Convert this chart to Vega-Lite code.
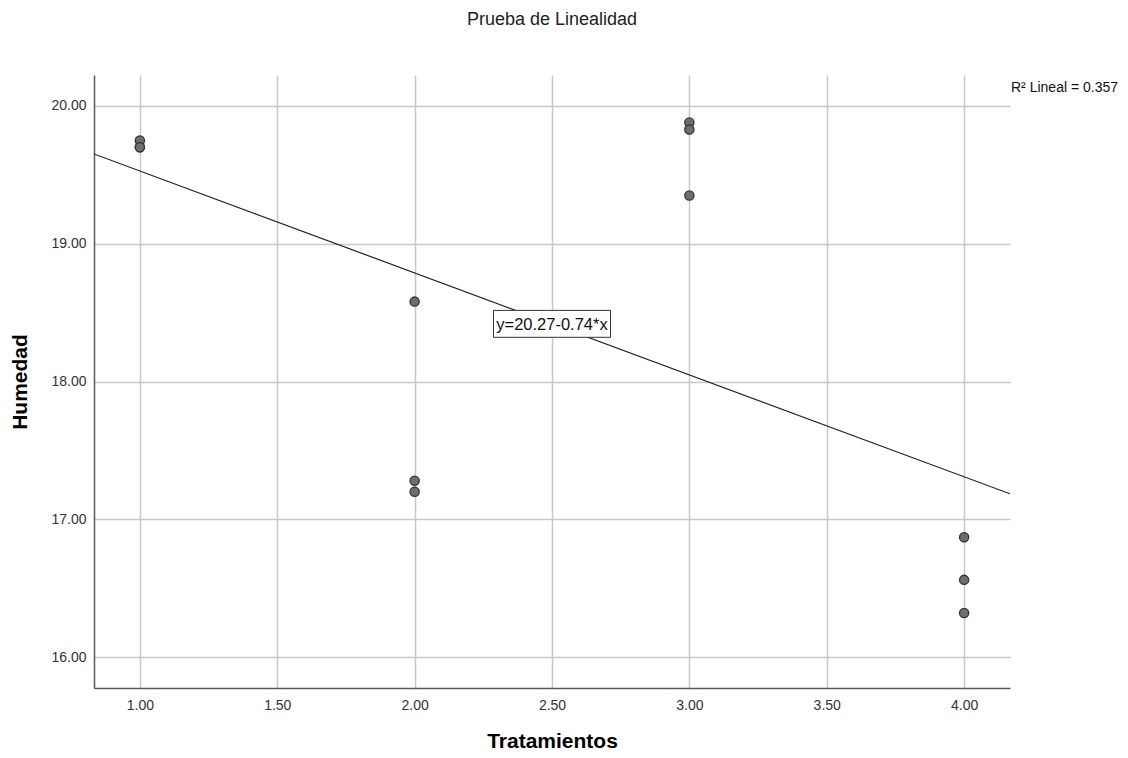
{
  "$schema": "https://vega.github.io/schema/vega-lite/v6.json",
  "autosize": "none",
  "width": 916,
  "height": 613,
  "padding": {"left": 94, "top": 75, "right": 118, "bottom": 70},
  "background": "white",
  "config": {
    "font": "Liberation Sans",
    "view": {"stroke": null},
    "axis": {
      "grid": true,
      "gridColor": "#c8c8c8",
      "gridWidth": 1.5,
      "domainColor": "#5a5a5a",
      "domainWidth": 1.5,
      "ticks": false,
      "labelFont": "Liberation Sans",
      "labelFontSize": 14,
      "labelColor": "#333333",
      "titleFont": "Liberation Sans",
      "titleFontSize": 21,
      "titleFontWeight": "bold",
      "titleColor": "#000000"
    }
  },
  "title": {
    "text": "Prueba de Linealidad",
    "font": "Liberation Sans",
    "fontSize": 18,
    "fontWeight": "normal",
    "color": "#222222",
    "anchor": "middle",
    "offset": 46
  },
  "datasets": {
    "obs": [
      {"Tratamientos": 1, "Humedad": 19.75},
      {"Tratamientos": 1, "Humedad": 19.70},
      {"Tratamientos": 1, "Humedad": 19.70},
      {"Tratamientos": 2, "Humedad": 18.58},
      {"Tratamientos": 2, "Humedad": 17.28},
      {"Tratamientos": 2, "Humedad": 17.20},
      {"Tratamientos": 3, "Humedad": 19.88},
      {"Tratamientos": 3, "Humedad": 19.83},
      {"Tratamientos": 3, "Humedad": 19.35},
      {"Tratamientos": 4, "Humedad": 16.87},
      {"Tratamientos": 4, "Humedad": 16.56},
      {"Tratamientos": 4, "Humedad": 16.32}
    ],
    "eq": [
      {"Tratamientos": 2.5, "Humedad": 18.4185, "label": "y=20.27-0.74*x"}
    ],
    "r2": [
      {"Tratamientos": 4.167, "Humedad": 20.13, "label": "R² Lineal = 0.357"}
    ]
  },
  "encoding": {
    "x": {
      "field": "Tratamientos",
      "type": "quantitative",
      "scale": {"domain": [0.833, 4.167], "nice": false, "zero": false},
      "axis": {"values": [1, 1.5, 2, 2.5, 3, 3.5, 4], "format": ".2f", "title": "Tratamientos", "titlePadding": 18, "labelPadding": 10}
    },
    "y": {
      "field": "Humedad",
      "type": "quantitative",
      "scale": {"domain": [15.775, 20.225], "nice": false, "zero": false},
      "axis": {"values": [16, 17, 18, 19, 20], "format": ".2f", "title": "Humedad", "titlePadding": 20, "labelPadding": 8}
    }
  },
  "layer": [
    {
      "data": {"name": "obs"},
      "transform": [
        {"regression": "Humedad", "on": "Tratamientos", "method": "linear", "extent": [0.833, 4.167]}
      ],
      "mark": {"type": "line", "color": "#222222", "strokeWidth": 1.2, "clip": true}
    },
    {
      "data": {"name": "obs"},
      "mark": {"type": "point", "filled": true, "size": 85, "fill": "#6e6e6e", "stroke": "#333333", "strokeWidth": 1.3, "opacity": 1, "fillOpacity": 1}
    },
    {
      "data": {"name": "eq"},
      "mark": {"type": "point", "shape": "M-1,-0.23H1V0.23H-1Z", "size": 13689, "filled": false, "fill": "white", "fillOpacity": 1, "stroke": "#333333", "strokeWidth": 1, "opacity": 1}
    },
    {
      "data": {"name": "eq"},
      "mark": {"type": "text", "font": "Liberation Sans", "fontSize": 16.5, "color": "#111111", "align": "center", "baseline": "middle", "dy": 1},
      "encoding": {"text": {"field": "label"}}
    },
    {
      "data": {"name": "r2"},
      "mark": {"type": "text", "font": "Liberation Sans", "fontSize": 14, "color": "#111111", "align": "left", "baseline": "middle", "dx": 1, "clip": false},
      "encoding": {"text": {"field": "label"}}
    }
  ]
}
